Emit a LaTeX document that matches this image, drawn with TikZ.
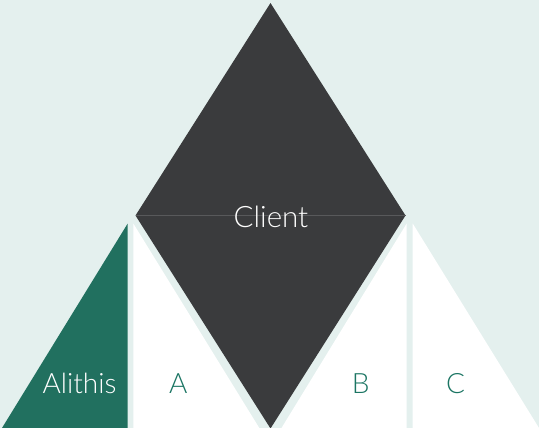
\documentclass[tikz,border=0pt]{standalone}
\usepackage{fontspec}
\setmainfont{Lato Light}
\definecolor{bgmint}{HTML}{E4F0EE}
\definecolor{darkgrey}{HTML}{3A3B3D}
\definecolor{seamgrey}{HTML}{58595B}
\definecolor{alithisgreen}{HTML}{21705F}
\definecolor{labelgreen}{HTML}{1B7563}
\tikzset{
  lbl/.style={anchor=base, inner sep=0pt, font=\fontsize{28}{30}\selectfont},
  greenlbl/.style={lbl, text=labelgreen},
  whitelbl/.style={lbl, text=white},
}
\begin{document}
\begin{tikzpicture}[x=1pt,y=-1pt]
  \fill[bgmint] (0,0) rectangle (539,428);
  \useasboundingbox (0,0) rectangle (539,428);
  % diamond
  \coordinate (dtop) at (270.5,3);
  \coordinate (dleft) at (135.5,215.5);
  \coordinate (dright) at (405.5,215.5);
  \coordinate (dbot) at (270.5,428.5);
  \fill[darkgrey] (dtop) -- (dright) -- (dbot) -- (dleft) -- cycle;
  \draw[seamgrey, line width=0.8pt] (dleft) -- (dright);
  % small triangles
  \fill[alithisgreen] (127.7,223.5) -- (127.7,428) -- (2,428) -- cycle;
  \fill[white] (133.3,223.5) -- (133.3,428) -- (259.3,428) -- cycle;
  \fill[white] (406.7,223.5) -- (406.7,428) -- (281.5,428) -- cycle;
  \fill[white] (412.7,223.5) -- (412.7,428) -- (539,428) -- cycle;
  % labels
  \node[whitelbl, font=\fontsize{29.5}{31}\selectfont] (client) at (271,227) {Client};
  \node[whitelbl] (alithis) at (79.5,393) {Alithis};
  \node[greenlbl] (a) at (178.3,393) {A};
  \node[greenlbl] (b) at (360.7,393) {B};
  \node[greenlbl] (c) at (455.5,393) {C};
\end{tikzpicture}
\end{document}
